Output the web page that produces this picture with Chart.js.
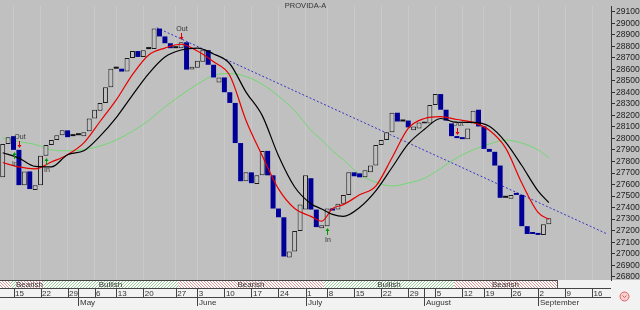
<!DOCTYPE html>
<html>
<head>
<meta charset="utf-8">
<title>PROVIDA-A</title>
<script src="https://cdn.jsdelivr.net/npm/chart.js@4.4.0/dist/chart.umd.min.js"></script>
<style>
  html, body { margin: 0; padding: 0; background: #f2f2f2; }
  #wrap { width: 640px; height: 310px; }
</style>
</head>
<body>
<div id="wrap"><canvas id="chart" width="640" height="310"></canvas></div>
<script>
// 1. Data (one candle body per trading day)
const openVals = [
  27663, 27952, 28020, 27901, 27595, 27714, 27553, 27595, 27850, 27943,
  27986, 28028, 28070, 28020, 28028, 28020, 28062, 28172, 28240, 28308,
  28444, 28605, 28605, 28580, 28698, 28758, 28707, 28775, 28775, 28953,
  28885, 28826, 28783, 28783, 28834, 28597, 28614, 28665, 28766, 28639,
  28486, 28529, 28401, 28308, 27960, 27629, 27706, 27604, 27680, 27892,
  27680, 27392, 27316, 26967, 27019, 27197, 27383, 27655, 27383, 27222,
  27239, 27392, 27383, 27434, 27510, 27706, 27697, 27663, 27706, 27765,
  27943, 27986, 28053, 28223, 28147, 28155, 28070, 28087, 28130, 28130,
  28291, 28385, 28249, 28130, 28011, 28003, 27994, 28130, 28249, 28104,
  27909, 27884, 27765, 27485, 27477, 27518, 27510, 27239, 27175, 27171,
  27163, 27256
];
const closeVals = [
  27952, 28011, 27901, 27595, 27714, 27561, 27595, 27850, 27943, 27986,
  28028, 28070, 28011, 28020, 28028, 28053, 28172, 28249, 28308, 28444,
  28605, 28605, 28580, 28698, 28758, 28707, 28766, 28775, 28953, 28885,
  28826, 28783, 28783, 28834, 28597, 28622, 28673, 28766, 28639, 28529,
  28529, 28401, 28308, 27960, 27629, 27706, 27612, 27680, 27892, 27680,
  27392, 27316, 26976, 27019, 27197, 27426, 27680, 27383, 27231, 27248,
  27392, 27375, 27434, 27510, 27706, 27672, 27663, 27723, 27765, 27943,
  27986, 28053, 28223, 28147, 28147, 28096, 28104, 28138, 28147, 28291,
  28385, 28249, 28155, 28020, 28003, 27994, 28087, 28240, 28104, 27909,
  27884, 27765, 27485, 27485, 27510, 27510, 27239, 27171, 27171, 27163,
  27256, 27307
];

// moving averages, sampled at these day positions
const maIdx = [0, 3, 6, 9, 12, 15, 18, 21, 24, 27, 30, 33, 36, 39, 42, 45, 48, 51, 54, 57,
  59, 61, 63, 66, 69, 72, 75, 78, 81, 84, 87, 90, 93, 96, 99, 101];
const maRed = [27791, 27753, 27736, 27795, 27859, 27961, 28147, 28334, 28554, 28724,
  28784, 28817, 28758, 28665, 28546, 28156, 27850, 27562, 27392, 27324,
  27282, 27392, 27426, 27511, 27587, 27833, 28088, 28173, 28190, 28164,
  28139, 28071, 27918, 27613, 27358, 27299];
const maBlack = [27876, 27829, 27757, 27753, 27859, 27893, 28020, 28181, 28376, 28563,
  28707, 28767, 28784, 28733, 28648, 28402, 28198, 27850, 27579, 27434,
  27388, 27341, 27324, 27401, 27545, 27748, 27952, 28079, 28173, 28139,
  28139, 28105, 27969, 27765, 27545, 27443];
const maGreen = [28003, 27973, 27948, 27901, 27893, 27901, 27935, 27986, 28062, 28156,
  28274, 28376, 28470, 28546, 28563, 28537, 28470, 28368, 28241, 28071,
  27986, 27893, 27816, 27689, 27621, 27587, 27613, 27655, 27740, 27833,
  27901, 27952, 27986, 27960, 27901, 27833];

// dotted trend line
const trendIdx = [28.5, 111.8];
const trendVals = [28960, 27171];

// signals
const markerIdx = [2, 3, 8, 33, 60, 84];
const markerKind = ['In', 'Out', 'In', 'Out', 'In', 'Out'];

const bandFrom = [-0.5, 1.5, 2.5, 7.5, 32.5, 59.5, 83.5];
const bandTo = [1.5, 2.5, 7.5, 32.5, 59.5, 83.5, 102.5];
const bandKind = ['Bearish', 'Bullish', 'Bearish', 'Bullish', 'Bearish', 'Bullish', 'Bearish'];

// axes
const weekIdx = [2, 7, 12, 17, 21, 26, 32, 36, 41, 46, 51, 56, 60, 65, 70, 75, 80, 85, 89, 94, 99, 104, 109];
const weekLbl = ['15', '22', '29', '6', '13', '20', '27', '3', '10', '17', '24', '1', '8', '15', '22', '29',
  '5', '12', '19', '26', '2', '9', '16'];
const monthIdx = [14, 36, 56, 78, 99];
const monthLbl = ['May', 'June', 'July', 'August', 'September'];
const yTicks = [26800, 26900, 27000, 27100, 27200, 27300, 27400, 27500, 27600, 27700, 27800, 27900,
  28000, 28100, 28200, 28300, 28400, 28500, 28600, 28700, 28800, 28900, 29000, 29100];

// 2. Styles
const FONT = '"Liberation Sans Narrow", "Arial Narrow", "Liberation Sans", sans-serif';
const plotBg = '#c0c0c0';
const stripBg = '#f2f2f2';
const candleBlue = '#000099';

Chart.defaults.font.family = FONT;

function hatch(ctx, x0, x1, y0, y1, color, up) {
    ctx.save();
    ctx.beginPath();
    ctx.rect(x0, y0, x1 - x0, y1 - y0);
    ctx.clip();
    ctx.strokeStyle = color;
    ctx.lineWidth = 0.8;
    const h = y1 - y0;
    for (let x = x0 - h; x < x1 + h; x += 3) {
        ctx.beginPath();
        if (up) { ctx.moveTo(x, y1); ctx.lineTo(x + h, y0); }
        else { ctx.moveTo(x, y0); ctx.lineTo(x + h, y1); }
        ctx.stroke();
    }
    ctx.restore();
}

function arrow(ctx, x, yFrom, yTo, color) {
    const dir = yTo > yFrom ? 1 : -1;
    ctx.strokeStyle = color;
    ctx.fillStyle = color;
    ctx.lineWidth = 1;
    ctx.beginPath();
    ctx.moveTo(x + 0.5, yFrom);
    ctx.lineTo(x + 0.5, yTo - dir * 2);
    ctx.stroke();
    ctx.beginPath();
    ctx.moveTo(x - 1.5, yTo - dir * 3);
    ctx.lineTo(x + 2.5, yTo - dir * 3);
    ctx.lineTo(x + 0.5, yTo);
    ctx.closePath();
    ctx.fill();
}

// 3. Decorations: backgrounds, signal band, date rows, title, markers
const decor = {
    id: 'decor',
    beforeDraw(chart) {
        const { ctx, chartArea } = chart;
        ctx.save();
        ctx.fillStyle = plotBg;
        ctx.fillRect(0, 0, chart.width, chartArea.bottom);
        ctx.fillStyle = stripBg;
        ctx.fillRect(0, chartArea.bottom, chart.width, chart.height - chartArea.bottom);
        ctx.restore();
    },
    afterDraw(chart) {
        const { ctx, chartArea } = chart;
        const xs = chart.scales.x, ys = chart.scales.y;
        const top = chartArea.bottom, bot = top + 8;
        const right = chartArea.right;
        ctx.save();

        // signal band
        let bandEnd = 0;
        bandFrom.forEach((from, i) => {
            const x0 = Math.max(0, Math.round(xs.getPixelForValue(from)));
            const x1 = Math.round(xs.getPixelForValue(bandTo[i]));
            bandEnd = x1;
            ctx.fillStyle = '#ffffff';
            ctx.fillRect(x0, top, x1 - x0, bot - top);
            const bull = bandKind[i] === 'Bullish';
            hatch(ctx, x0, x1, top, bot, bull ? '#7cc07c' : '#d87878', bull);
            ctx.strokeStyle = '#555';
            ctx.lineWidth = 1;
            ctx.beginPath();
            ctx.moveTo(x1 + 0.5, top);
            ctx.lineTo(x1 + 0.5, bot);
            ctx.stroke();
            if (x1 - x0 > 20) {
                ctx.fillStyle = '#333';
                ctx.font = '8px ' + FONT;
                ctx.textAlign = 'center';
                ctx.textBaseline = 'middle';
                ctx.fillText(bandKind[i], (x0 + x1) / 2, top + 4.5);
            }
        });
        ctx.strokeStyle = '#444';
        ctx.lineWidth = 1;
        ctx.beginPath();
        ctx.moveTo(0, top + 0.5); ctx.lineTo(bandEnd, top + 0.5);
        ctx.moveTo(0, bot + 0.5); ctx.lineTo(right, bot + 0.5);
        ctx.moveTo(0, bot + 9.5); ctx.lineTo(right, bot + 9.5);
        ctx.stroke();

        // week ticks
        ctx.beginPath();
        weekIdx.forEach(v => {
            const px = Math.round(xs.getPixelForValue(v)) + 0.5;
            ctx.moveTo(px, bot); ctx.lineTo(px, bot + 9);
        });
        // month ticks
        monthIdx.forEach(v => {
            const px = Math.round(xs.getPixelForValue(v)) + 0.5;
            ctx.moveTo(px, bot); ctx.lineTo(px, bot + 18);
        });
        ctx.stroke();
        ctx.fillStyle = '#333';
        ctx.font = '8px ' + FONT;
        ctx.textAlign = 'left';
        ctx.textBaseline = 'alphabetic';
        monthIdx.forEach((v, i) => {
            const px = Math.round(xs.getPixelForValue(v));
            ctx.fillText(monthLbl[i], px + 2, bot + 17);
        });

        // title
        ctx.fillStyle = '#333';
        ctx.font = '7.5px ' + FONT;
        ctx.textAlign = 'center';
        ctx.textBaseline = 'middle';
        ctx.fillText('PROVIDA-A', (chartArea.left + chartArea.right) / 2, 6);

        // in / out markers
        ctx.font = '7px ' + FONT;
        markerIdx.forEach((idx, k) => {
            const px = Math.round(xs.getPixelForValue(idx));
            const hi = Math.max(openVals[idx], closeVals[idx]);
            const lo = Math.min(openVals[idx], closeVals[idx]);
            if (markerKind[k] === 'Out') {
                const py = Math.round(ys.getPixelForValue(hi));
                arrow(ctx, px, py - 9, py - 2, '#e00000');
                ctx.fillStyle = '#333';
                ctx.textBaseline = 'alphabetic';
                ctx.fillText('Out', px + 1, py - 11);
            } else {
                const py = Math.round(ys.getPixelForValue(lo));
                arrow(ctx, px, py + 9, py + 2, '#009900');
                ctx.fillStyle = '#333';
                ctx.textBaseline = 'top';
                ctx.fillText('In', px + 1, py + 11);
            }
        });

        // little logo, bottom right
        ctx.strokeStyle = '#e06060';
        ctx.fillStyle = '#f6d0d0';
        ctx.lineWidth = 1;
        ctx.beginPath();
        ctx.arc(624.5, 296.5, 4.5, 0, Math.PI * 2);
        ctx.fill();
        ctx.stroke();
        ctx.beginPath();
        ctx.moveTo(622.5, 295.5); ctx.lineTo(624.5, 297.5); ctx.lineTo(626.5, 295.5);
        ctx.stroke();

        ctx.restore();
    }
};

// 4. Chart
const candleData = openVals.map((o, i) => ({ x: i, y: [o, closeVals[i]] }));

function candleFill(c) {
    const i = c.dataIndex;
    if (closeVals[i] > openVals[i]) return plotBg;
    if (closeVals[i] < openVals[i]) return candleBlue;
    return '#111111';
}
function candleBorder(c) {
    const i = c.dataIndex;
    if (closeVals[i] > openVals[i]) return '#1a1a1a';
    if (closeVals[i] < openVals[i]) return candleBlue;
    return '#111111';
}

new Chart(document.getElementById('chart'), {
    type: 'bar',
    data: {
        datasets: [
            {
                type: 'line',
                data: maIdx.map((v, i) => ({ x: v, y: maGreen[i] })),
                borderColor: '#72d872',
                borderWidth: 1,
                pointRadius: 0,
                cubicInterpolationMode: 'monotone',
                order: 2
            },
            {
                type: 'line',
                data: trendIdx.map((v, i) => ({ x: v, y: trendVals[i] })),
                borderColor: '#3434c8',
                borderWidth: 1,
                borderDash: [2, 2],
                pointRadius: 0,
                order: 2
            },
            {
                data: candleData,
                backgroundColor: candleFill,
                borderColor: candleBorder,
                borderWidth: c => (closeVals[c.dataIndex] > openVals[c.dataIndex] ? 1 : 0),
                borderSkipped: false,
                minBarLength: 2,
                categoryPercentage: 1,
                barPercentage: 0.92,
                order: 1
            },
            {
                type: 'line',
                data: maIdx.map((v, i) => ({ x: v, y: maBlack[i] })),
                borderColor: '#000000',
                borderWidth: 1.2,
                pointRadius: 0,
                cubicInterpolationMode: 'monotone',
                order: 0
            },
            {
                type: 'line',
                data: maIdx.map((v, i) => ({ x: v, y: maRed[i] })),
                borderColor: '#e80000',
                borderWidth: 1.2,
                pointRadius: 0,
                cubicInterpolationMode: 'monotone',
                order: 0
            }
        ]
    },
    options: {
        responsive: false,
        animation: false,
        devicePixelRatio: 1,
        layout: { padding: 0 },
        plugins: { legend: { display: false }, tooltip: { enabled: false } },
        scales: {
            x: {
                type: 'linear',
                min: -0.5,
                max: 112.5,
                offset: false,
                afterFit: s => { s.height = 30; },
                afterBuildTicks: s => { s.ticks = weekIdx.map(v => ({ value: v })); },
                grid: { offset: false, color: 'rgba(255,255,255,0.15)', drawTicks: false },
                border: { display: false },
                ticks: {
                    autoSkip: false,
                    maxRotation: 0,
                    align: 'start',
                    labelOffset: 1.5,
                    padding: 9,
                    color: '#333',
                    font: { size: 8 },
                    callback: (v, i) => weekLbl[i]
                }
            },
            y: {
                position: 'right',
                min: 26772,
                max: 29148,
                afterFit: s => { s.width = 29; },
                afterBuildTicks: s => { s.ticks = yTicks.map(v => ({ value: v })); },
                grid: { drawOnChartArea: false, tickLength: 4, color: '#333' },
                border: { color: '#333' },
                ticks: {
                    autoSkip: false,
                    padding: 1,
                    color: '#222',
                    font: { size: 8.5 },
                    callback: v => String(v)
                }
            }
        }
    },
    plugins: [decor]
});
</script>
</body>
</html>
